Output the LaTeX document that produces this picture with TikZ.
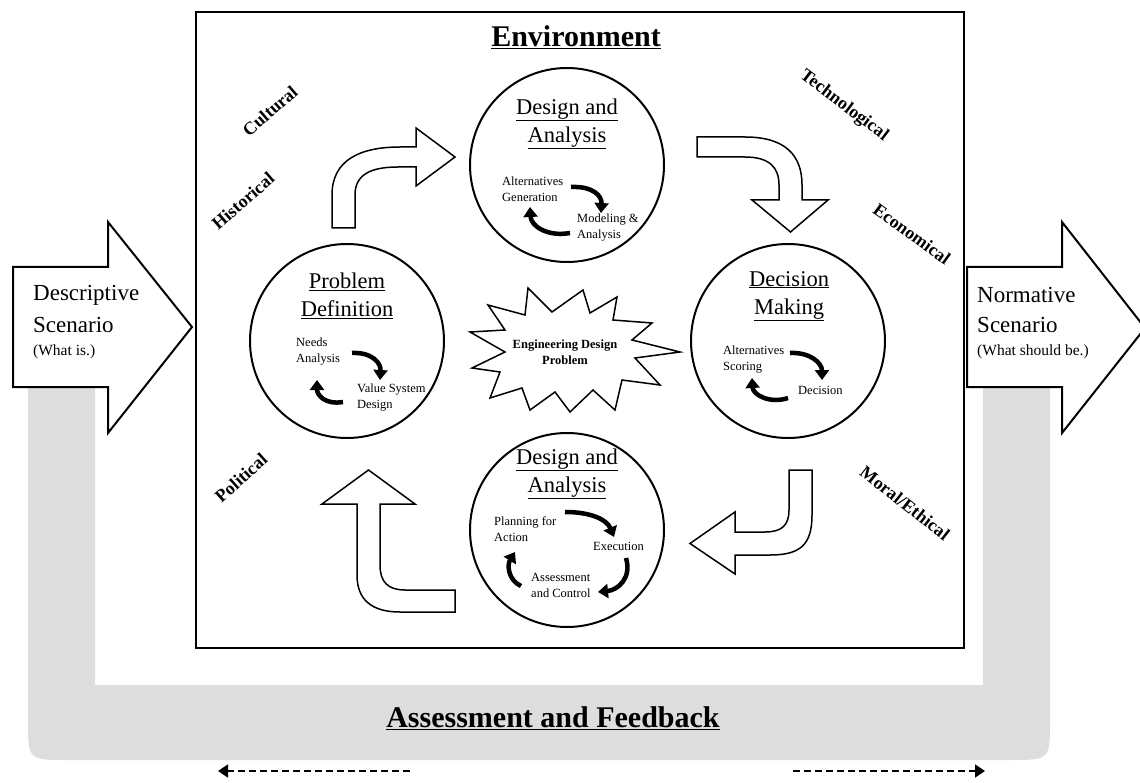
\documentclass[tikz,border=0pt]{standalone}
\usepackage{fontspec}
\setmainfont{Liberation Serif}
\usetikzlibrary{arrows.meta}
\definecolor{fbgray}{RGB}{221,221,221}
\tikzset{
  circ/.style={draw, line width=2pt, circle, minimum size=194pt, inner sep=0pt},
  blockarrow/.style={draw, fill=white, line width=1.5pt, line join=miter},
  bigarrow/.style={draw, fill=white, line width=2pt, line join=miter},
  cyc/.style={line width=4.5pt, -{Triangle[length=10pt,width=14pt]}},
  ttl/.style={font=\fontsize{22.5}{28}\selectfont, align=center, inner sep=0pt},
  sm/.style={font=\fontsize{12.5}{16}\selectfont, align=left, inner sep=0pt},
  envlbl/.style={font=\bfseries\fontsize{18}{20}\selectfont, inner sep=0pt},
  scen/.style={font=\fontsize{23}{30}\selectfont, anchor=west, inner sep=0pt},
  scensm/.style={font=\fontsize{15.5}{18}\selectfont, anchor=west, inner sep=0pt},
  dasharrow/.style={line width=1.6pt, dash pattern=on 7pt off 4pt, -{Triangle[length=10pt,width=13pt]}},
}
\begin{document}
\begin{tikzpicture}[x=1pt,y=-1pt]
\useasboundingbox (0,0) rectangle (1140,783);
% feedback band
\fill[fbgray] (28,388) -- (95,388) -- (95,685) -- (983,685) -- (983,388) -- (1050,388)
  -- (1050,720) .. controls (1050,760) .. (1010,760) -- (68,760) .. controls (28,760) .. (28,720) -- cycle;
% environment box
\draw[line width=2pt, fill=white] (196,12) rectangle (964,648);
\node[font=\bfseries\fontsize{30}{34}\selectfont, inner sep=0pt] (envT) at (576,37) {\underline{Environment}};
\node[font=\bfseries\fontsize{30}{34}\selectfont, inner sep=0pt] (fbT) at (553,718) {\underline{Assessment and Feedback}};

% scenario arrows
\draw[bigarrow] (13,267) -- (108,267) -- (108,222) -- (192,327) -- (108,433) -- (108,387) -- (13,387) -- cycle;
\node[scen] (d1) at (33,295) {Descriptive};
\node[scen] (d2) at (33,325) {Scenario};
\node[scensm] (d3) at (33,352) {(What is.)};
\draw[bigarrow] (967,267) -- (1062,267) -- (1062,222) -- (1145,328) -- (1062,433) -- (1062,387) -- (967,387) -- cycle;
\node[scen] (n1) at (977,295) {Normative};
\node[scen] (n2) at (977,325) {Scenario};
\node[scensm] (n3) at (977,352) {(What should be.)};

% dashed arrows
\coordinate (la) at (410,771); \coordinate (lb) at (218,771);
\coordinate (ra) at (793,771); \coordinate (rb) at (985,771);
\draw[dasharrow] (la) -- (lb);
\draw[dasharrow] (ra) -- (rb);

% block arrows between circles
\draw[blockarrow] (332,228) -- (332,195) .. controls (332,160) and (360,147) .. (400,147) -- (416,147) -- (416,128) -- (455,157) -- (416,186) -- (416,167) -- (398,167) .. controls (370,167) and (355,175) .. (355,195) -- (355,228) -- cycle;
\draw[blockarrow] (697,137) -- (745,137) .. controls (785,137) and (802,155) .. (802,185) -- (802,200) -- (828,200) -- (790.5,232) -- (752,200) -- (779,200) -- (779,185) .. controls (779,168) and (770,157) .. (745,157) -- (697,157) -- cycle;
\draw[blockarrow] (789,470) -- (812,470) -- (812,515) .. controls (812,545) and (800,555) .. (770,555) -- (735,555) -- (735,574) -- (690,543.5) -- (735,512) -- (735,532) -- (765,532) .. controls (782,532) and (789,525) .. (789,510) -- cycle;
\draw[blockarrow] (357,504) -- (322,504) -- (368.5,470) -- (415,504) -- (380,504) -- (380,565) .. controls (380,582) and (388,590) .. (405,590) -- (455,590) -- (455,612) -- (400,612) .. controls (372,612) and (357,600) .. (357,575) -- cycle;

% circles
\node[circ] (cTop) at (567,165) {};
\node[circ] (cLeft) at (347,341) {};
\node[circ] (cRight) at (788,341) {};
\node[circ] (cBot) at (567,530) {};

% top circle
\node[ttl] (tT) at (567,124) {\underline{Design and}\\\underline{Analysis}};
\node[sm, anchor=west] (t1) at (502,189) {Alternatives\\Generation};
\node[sm, anchor=west] (t2) at (577,228) {Modeling \&\\Analysis};
\draw[cyc] (571,187) .. controls (593,186) and (602,196) .. (601,213);
\draw[cyc] (570,233) .. controls (547,237) and (531,226) .. (530,207);

% left circle
\node[ttl] (lT) at (347,296) {\underline{Problem}\\\underline{Definition}};
\node[sm, anchor=west] (l1) at (296,352) {Needs\\Analysis};
\node[sm, anchor=west] (l2) at (357,398) {Value System\\Design};
\draw[cyc] (352,353) .. controls (372,352) and (381,363) .. (380,380);
\draw[cyc] (343,402) .. controls (325,405) and (317,395) .. (317,380);

% right circle
\node[ttl] (rT) at (789,296) {\underline{Decision}\\\underline{Making}};
\node[sm, anchor=west] (r1) at (723,360) {Alternatives\\Scoring};
\node[sm, anchor=west] (r2) at (798,390) {Decision};
\draw[cyc] (790,353) .. controls (810,352) and (822,363) .. (822,380);
\draw[cyc] (788,398) .. controls (770,404) and (753,395) .. (752,378);

% bottom circle
\node[ttl] (bT) at (567,474) {\underline{Design and}\\\underline{Analysis}};
\node[sm, anchor=west] (b1) at (494,529) {Planning for\\Action};
\node[sm, anchor=west] (b2) at (593,546) {Execution};
\node[sm, anchor=west] (b3) at (531,585) {Assessment\\and Control};
\draw[cyc] (565,512) .. controls (592,512) and (607,520) .. (614,537);
\draw[cyc] (626,558) .. controls (632,578) and (618,590) .. (598,592);
\draw[cyc] (521,586) .. controls (508,580) and (507,565) .. (515,552);

% starburst
\draw[line width=1.5pt, fill=white, line join=miter] (470,332) -- (505,330) -- (488,305) -- (525,315) -- (528,288) -- (552,312) -- (583,290) -- (590,313) -- (617,297) -- (613,320) -- (652,323) -- (632,340) -- (680,352) -- (635,358) -- (660,385) -- (622,380) -- (615,410) -- (593,390) -- (570,412) -- (555,392) -- (530,410) -- (522,388) -- (490,398) -- (500,372) -- (472,368) -- (505,352) -- cycle;
\node[font=\bfseries\fontsize{12.5}{16}\selectfont, align=center, inner sep=0pt] (edp) at (565,352) {Engineering Design\\Problem};

% environment labels
\node[envlbl, rotate=41] (cult) at (270,111) {Cultural};
\node[envlbl, rotate=41] (hist) at (243,201) {Historical};
\node[envlbl, rotate=42] (pol) at (241,478) {Political};
\node[envlbl, rotate=-37] (tech) at (844,106) {Technological};
\node[envlbl, rotate=-36] (econ) at (912,234) {Economical};
\node[envlbl, rotate=-38] (moral) at (905,503) {Moral/Ethical};
\end{tikzpicture}
\end{document}
